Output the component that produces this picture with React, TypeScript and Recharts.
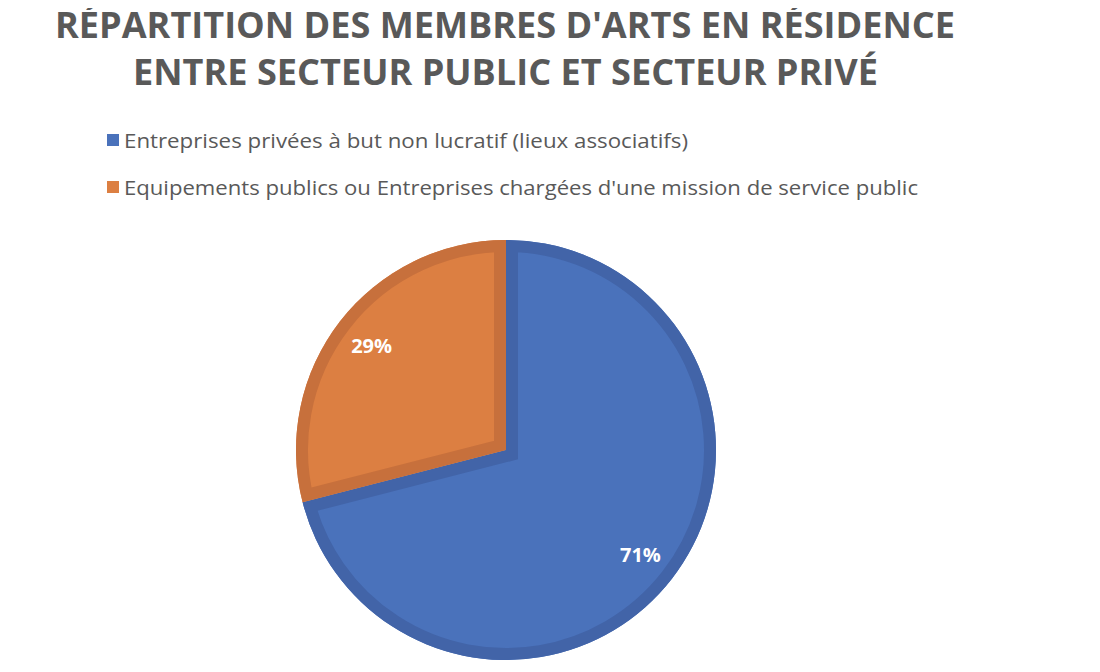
import React from 'react';
import { PieChart, Pie, Cell, Legend, Sector } from 'recharts';

const categories = [
  'Entreprises privées à but non lucratif (lieux associatifs)',
  "Equipements publics ou Entreprises chargées d'une mission de service public",
];
const shares = [71, 29];
const fills = ['#4A72BB', '#DC7F42'];
const borders = ['#4264A8', '#C7703C'];
const titleLines = ["RÉPARTITION DES MEMBRES D'ARTS EN RÉSIDENCE", 'ENTRE SECTEUR PUBLIC ET SECTEUR PRIVÉ'];
const legendWidths = [564, 794];

const data = categories.map((name, i) => ({ name, value: shares[i] }));

const RAD = Math.PI / 180;

const renderLabel = (props: any) => {
  const { cx, cy, outerRadius, startAngle, endAngle, midAngle, percent, index } = props;
  const r = outerRadius * 0.81;
  const x = cx + r * Math.cos(-midAngle * RAD);
  const y = cy + r * Math.sin(-midAngle * RAD);
  const id = `slice-clip-${index}`;
  return (
    <g key={id}>
      <defs>
        <clipPath id={id}>
          <Sector cx={cx} cy={cy} innerRadius={0} outerRadius={outerRadius} startAngle={startAngle} endAngle={endAngle} />
        </clipPath>
      </defs>
      <g clipPath={`url(#${id})`}>
        <Sector
          cx={cx}
          cy={cy}
          innerRadius={0}
          outerRadius={outerRadius}
          startAngle={startAngle}
          endAngle={endAngle}
          fill="none"
          stroke={borders[index]}
          strokeWidth={24}
        />
      </g>
      <text
        x={x}
        y={y}
        fill="#FFFFFF"
        textAnchor="middle"
        dominantBaseline="central"
        style={{ fontFamily: '"Open Sans", sans-serif', fontWeight: 700, fontSize: 20 }}
      >
        {`${Math.round(percent * 100)}%`}
      </text>
    </g>
  );
};

const renderLegend = (props: any) => {
  const payload = props.payload || [];
  return (
    <svg width={1000} height={210} style={{ display: 'block' }}>
      {payload.map((p: any, i: number) => (
        <g key={i}>
          <rect x={107} y={134 + i * 47} width={12} height={12} fill={p.color || fills[i]} />
          <text
            x={124}
            y={148 + i * 47}
            fill="#595959"
            textLength={legendWidths[i]}
            lengthAdjust="spacingAndGlyphs"
            style={{ fontFamily: '"Open Sans", sans-serif', fontSize: 20 }}
          >
            {p.value}
          </text>
        </g>
      ))}
    </svg>
  );
};

export default function App() {
  return (
    <div style={{ position: 'relative', marginLeft: -8, marginTop: -8, width: 1100, height: 672, background: '#FFFFFF' }}>
      <PieChart width={1100} height={672} margin={{ top: 0, right: 0, bottom: 0, left: 0 }}>
        <Legend
          layout="vertical"
          verticalAlign="top"
          align="right"
          content={renderLegend}
          wrapperStyle={{ left: 0, top: 0, width: 1000, height: 210 }}
        />
        <Pie
          data={data}
          dataKey="value"
          nameKey="name"
          cx={506}
          cy={450}
          innerRadius={0}
          outerRadius={210}
          startAngle={90}
          endAngle={-270}
          label={renderLabel}
          labelLine={false}
          isAnimationActive={false}
        >
          {data.map((d, i) => (
            <Cell key={d.name} fill={fills[i]} stroke="none" />
          ))}
        </Pie>
      </PieChart>
      <svg width={1100} height={100} style={{ position: 'absolute', left: 0, top: 0 }}>
        <text
          x={55}
          y={38}
          fill="#595959"
          textLength={900}
          lengthAdjust="spacingAndGlyphs"
          style={{ fontFamily: '"Open Sans", sans-serif', fontWeight: 700, fontSize: 35 }}
        >
          {titleLines[0]}
        </text>
        <text
          x={133}
          y={85}
          fill="#595959"
          textLength={745}
          lengthAdjust="spacingAndGlyphs"
          style={{ fontFamily: '"Open Sans", sans-serif', fontWeight: 700, fontSize: 35 }}
        >
          {titleLines[1]}
        </text>
      </svg>
    </div>
  );
}
